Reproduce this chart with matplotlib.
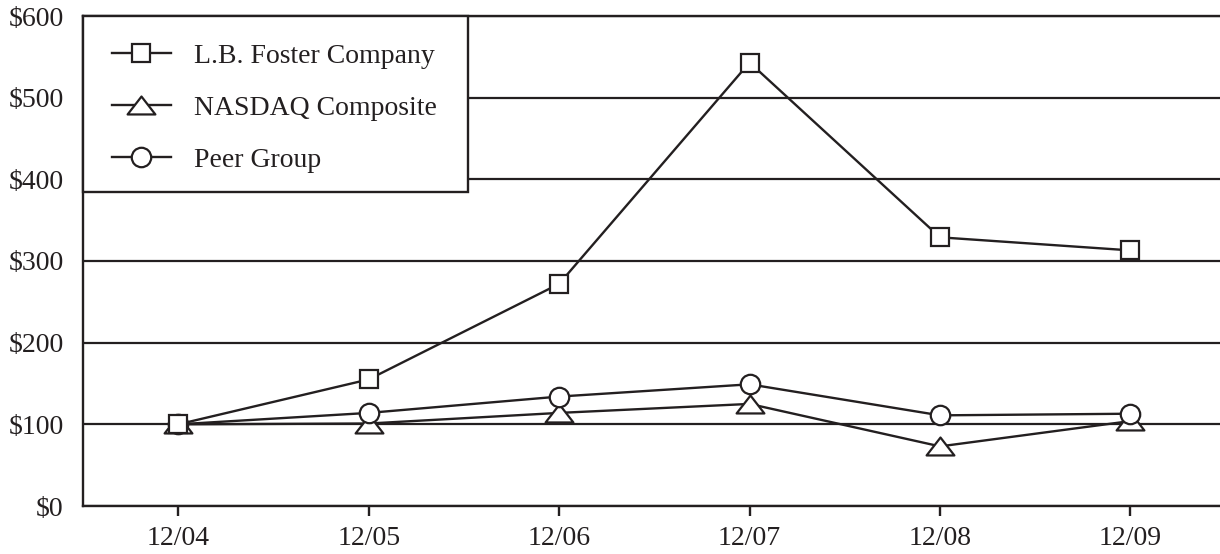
import matplotlib.pyplot as plt
from matplotlib.path import Path
from matplotlib.patches import Rectangle

# cumulative total return, $100 invested 12/04
periods = ["12/04", "12/05", "12/06", "12/07", "12/08", "12/09"]
lb_foster = [100, 155, 272, 543, 329, 313]
nasdaq = [100, 101, 114, 125, 73, 104]
peer_group = [100, 114, 134, 149, 111, 113]
y_ticks = [0, 100, 200, 300, 400, 500, 600]

ink = "#231f20"
plt.rcParams["font.family"] = ["Liberation Serif", "DejaVu Serif"]

# wide, flat triangle like the printed chart
tri = Path([(-1.55, -1.0), (1.55, -1.0), (0.0, 1.0), (-1.55, -1.0)],
           [Path.MOVETO, Path.LINETO, Path.LINETO, Path.CLOSEPOLY])

fig = plt.figure(figsize=(12.2, 5.54), dpi=100)
ax_w, ax_h = 1220 - 83, 490
ax = fig.add_axes([83 / 1220, 48 / 554, ax_w / 1220, ax_h / 554])

x = list(range(len(periods)))
style = dict(color=ink, linewidth=1.7, markerfacecolor="white",
             markeredgecolor=ink, markeredgewidth=1.6)
ax.plot(x, lb_foster, marker="s", markersize=13.5, label="L.B. Foster Company", zorder=4, **style)
ax.plot(x, nasdaq, marker=tri, markersize=20, label="NASDAQ Composite", zorder=3, **style)
ax.plot(x, peer_group, marker="o", markersize=14, label="Peer Group", zorder=3, **style)

ax.set_xlim(-0.5, 5.47)
ax.set_ylim(0, 600)
ax.set_xticks(x)
ax.set_xticklabels(periods)
ax.set_yticks(y_ticks)
ax.set_yticklabels(["$%d" % v for v in y_ticks])

ax.grid(axis="y", color=ink, linewidth=1.6)
ax.set_axisbelow(True)
for side in ["left", "bottom", "top"]:
    ax.spines[side].set_color(ink)
    ax.spines[side].set_linewidth(1.7)
ax.spines["right"].set_visible(False)

ax.tick_params(axis="y", length=0, pad=14, labelsize=20, labelcolor=ink)
ax.tick_params(axis="x", length=7.5, width=1.7, color=ink, pad=7, labelsize=20, labelcolor=ink)

# legend box drawn separately so it can sit flush in the corner
box_w, box_h = 385 / ax_w, 176 / ax_h
ax.add_patch(Rectangle((0, 1 - box_h), box_w, box_h, transform=ax.transAxes,
                       facecolor="white", edgecolor=ink, linewidth=1.7,
                       zorder=4.5, clip_on=False))

leg = ax.legend(loc="upper left", bbox_to_anchor=(5 / ax_w, 1 - 4 / ax_h),
                borderaxespad=0, frameon=False, fontsize=20,
                handlelength=2.12, handletextpad=0.86, borderpad=0.85,
                labelspacing=0.95)
leg.set_zorder(5)
for t in leg.get_texts():
    t.set_color(ink)

fig.savefig("out.png", dpi=100)
